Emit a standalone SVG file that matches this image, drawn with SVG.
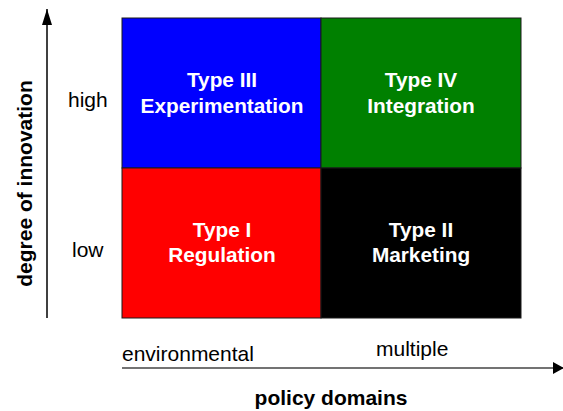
<svg xmlns="http://www.w3.org/2000/svg" width="563" height="411" viewBox="0 0 563 411">
<style>
.cell{stroke:#1a1a1a;stroke-width:1}
.t{font-family:"Liberation Sans",Arial,sans-serif;font-size:20.8px;font-weight:bold;fill:#ffffff;text-anchor:middle}
.lab{font-family:"Liberation Sans",Arial,sans-serif;font-size:21px;fill:#000000}
.blab{font-family:"Liberation Sans",Arial,sans-serif;font-size:21px;font-weight:bold;fill:#000000;text-anchor:middle}
.axis{stroke-width:1.5;fill:none}
</style>
<defs>
<marker id="ah" refX="11" refY="6" markerUnits="userSpaceOnUse" markerWidth="11" markerHeight="12" orient="auto">
<path d="M0,0 L11,6 L0,12 Z" fill="#000000"/>
</marker>
<marker id="av" refX="16" refY="5" markerUnits="userSpaceOnUse" markerWidth="16" markerHeight="10" orient="auto">
<path d="M0,0 L16,5 L0,10 Z" fill="#000000"/>
</marker>
</defs>
<rect width="563" height="411" fill="#ffffff"/>
<g id="connectors">
<line class="axis" x1="47" y1="318" x2="47" y2="9" stroke="#000000" marker-end="url(#av)"/>
<line class="axis" x1="122" y1="368" x2="564" y2="368" stroke="#444444" marker-end="url(#ah)"/>
</g>
<g id="type3">
<rect class="cell" x="122" y="18" width="199" height="150" fill="#0000ff"/>
<text class="t" x="222" y="87">Type III</text>
<text class="t" x="222" y="113">Experimentation</text>
</g>
<g id="type4">
<rect class="cell" x="321" y="18" width="200" height="150" fill="#008000"/>
<text class="t" x="421" y="87">Type IV</text>
<text class="t" x="421" y="113">Integration</text>
</g>
<g id="type1">
<rect class="cell" x="122" y="168" width="199" height="150" fill="#ff0000"/>
<text class="t" x="222" y="237">Type I</text>
<text class="t" x="222" y="262">Regulation</text>
</g>
<g id="type2">
<rect class="cell" x="321" y="168" width="200" height="150" fill="#000000"/>
<text class="t" x="421" y="237">Type II</text>
<text class="t" x="421" y="262">Marketing</text>
</g>
<g id="labels">
<text class="lab" x="68" y="107">high</text>
<text class="lab" x="72" y="257">low</text>
<text class="lab" x="122" y="361">environmental</text>
<text class="lab" x="376" y="356">multiple</text>
<text class="blab" x="331" y="405">policy domains</text>
<text class="blab" transform="translate(32,183.5) rotate(-90)">degree of innovation</text>
</g>
</svg>
